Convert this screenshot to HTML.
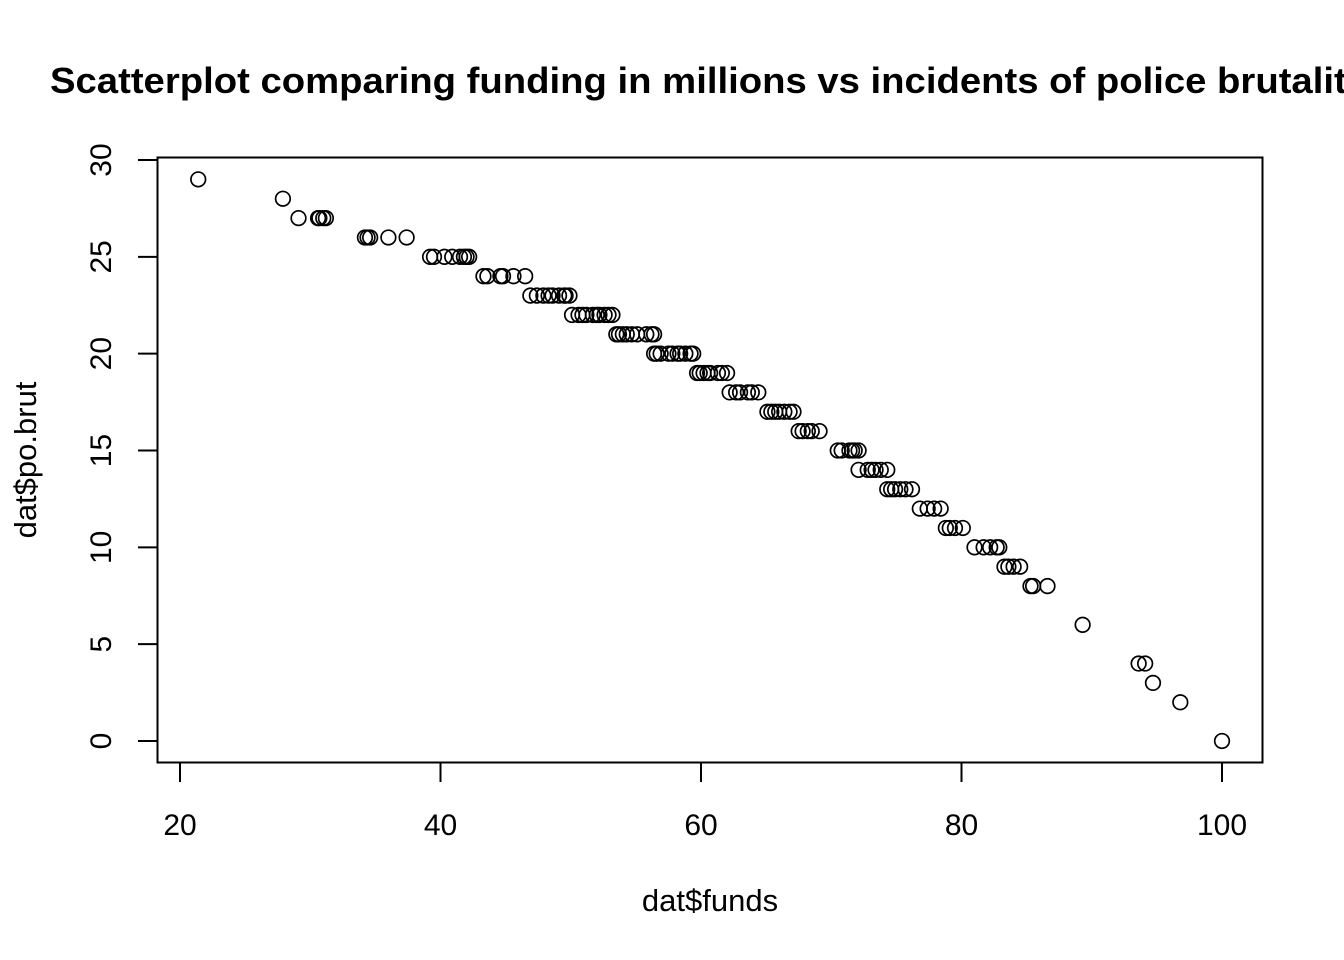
<!DOCTYPE html>
<html><head><meta charset="utf-8"><style>
html,body{margin:0;padding:0;background:#fff;width:1344px;height:960px;overflow:hidden}
svg{display:block;font-family:"Liberation Sans",Arial,sans-serif}
</style></head><body>
<svg id="chart" width="1344" height="960">
<text x="50" y="93" font-size="36" font-weight="bold" textLength="1318" lengthAdjust="spacingAndGlyphs">Scatterplot comparing funding in millions vs incidents of police brutality</text>
<rect x="157.5" y="157.5" width="1105" height="605" fill="none" stroke="#000" stroke-width="2"/>
<g id="xaxis"></g>
<g id="yaxis"></g>
<text x="710" y="911" font-size="31" text-anchor="middle">dat$funds</text>
<text transform="translate(36,460) rotate(-90)" font-size="31" text-anchor="middle">dat$po.brut</text>
<g id="points"></g>
</svg>
<script>
const xTicks=[20,40,60,80,100];
const yTicks=[0,5,10,15,20,25,30];
const funds=[21.4,27.9,29.1,30.6,30.7,31.0,31.2,34.2,34.4,34.6,36.0,37.4,
39.2,39.5,40.3,40.9,41.5,41.8,42.0,42.2,
43.3,43.6,44.6,44.8,45.6,46.5,
46.9,47.4,47.9,48.3,48.6,49.1,49.5,49.6,49.9,
50.1,50.6,50.9,51.2,51.7,52.0,52.2,52.6,52.9,53.2,
53.5,53.7,54.0,54.3,54.7,55.1,55.8,56.2,56.4,
56.4,56.6,56.9,57.5,57.8,58.2,58.4,58.8,59.2,59.4,
59.7,59.9,60.2,60.5,60.7,61.3,61.6,62.0,
62.2,62.7,63.0,63.6,63.9,64.4,
65.1,65.4,65.7,66.0,66.4,66.8,67.1,
67.5,67.8,68.2,68.5,69.1,
70.5,70.8,71.4,71.6,71.8,72.1,
72.1,72.8,73.1,73.4,73.8,74.3,
74.3,74.6,74.9,75.3,75.7,76.2,
76.8,77.4,77.9,78.4,
78.8,79.1,79.5,80.1,
81.0,81.7,82.2,82.7,82.9,
83.3,83.6,84.0,84.5,
85.3,85.5,86.6,89.3,93.6,94.1,94.7,96.8,100.0];
const brut=[29,28,27,27,27,27,27,26,26,26,26,26,
25,25,25,25,25,25,25,25,
24,24,24,24,24,24,
23,23,23,23,23,23,23,23,23,
22,22,22,22,22,22,22,22,22,22,
21,21,21,21,21,21,21,21,21,
20,20,20,20,20,20,20,20,20,20,
19,19,19,19,19,19,19,19,
18,18,18,18,18,18,
17,17,17,17,17,17,17,
16,16,16,16,16,
15,15,15,15,15,15,
14,14,14,14,14,14,
13,13,13,13,13,13,
12,12,12,12,
11,11,11,11,
10,10,10,10,10,
9,9,9,9,
8,8,8,6,4,4,3,2,0];
const NS="http://www.w3.org/2000/svg";
function xs(v){return 180+(v-20)*(1222-180)/80;}
function ys(v){return 741-v*(741-160)/30;}
function mk(t,a,p){const e=document.createElementNS(NS,t);for(const k in a)e.setAttribute(k,a[k]);p.appendChild(e);return e;}
const xa=document.getElementById('xaxis'),ya=document.getElementById('yaxis'),pg=document.getElementById('points');
mk('line',{x1:xs(xTicks[0]),x2:xs(xTicks[xTicks.length-1]),y1:762.5,y2:762.5,stroke:'#000','stroke-width':2},xa);
xTicks.forEach(t=>{
  const l=mk('line',{x1:xs(t),x2:xs(t),y1:762.5,y2:782,stroke:'#000','stroke-width':2},xa);
  
  
  const tx=mk('text',{x:xs(t),y:835,'font-size':30,'text-anchor':'middle'},xa);tx.textContent=t;
  
  
});
mk('line',{x1:157.5,x2:157.5,y1:ys(yTicks[0]),y2:ys(yTicks[yTicks.length-1]),stroke:'#000','stroke-width':2},ya);
yTicks.forEach(t=>{
  const l=mk('line',{x1:138,x2:157.5,y1:ys(t),y2:ys(t),stroke:'#000','stroke-width':2},ya);
  
  
  const tx=mk('text',{transform:`translate(111,${ys(t)}) rotate(-90)`,'font-size':30,'text-anchor':'middle'},ya);tx.textContent=t;
  
  
});
funds.forEach((f,i)=>{
  const c=mk('circle',{cx:xs(f),cy:ys(brut[i]),r:7.3,fill:'none',stroke:'#000','stroke-width':1.7},pg);
  
  
});
</script>
</body></html>
